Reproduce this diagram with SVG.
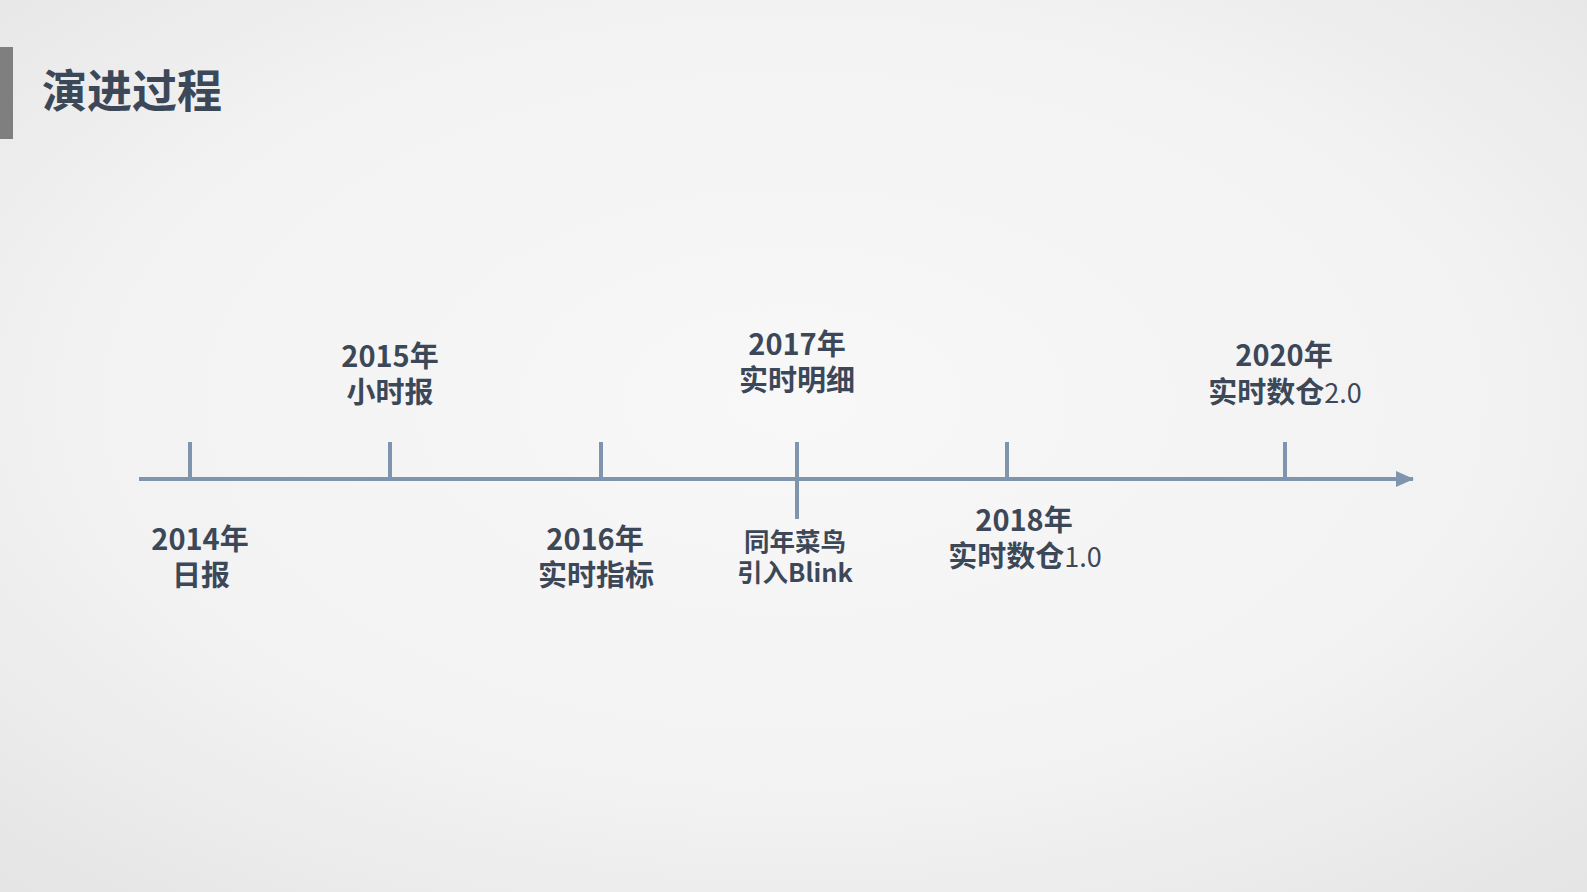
<svg xmlns="http://www.w3.org/2000/svg" width="1587" height="892" viewBox="0 0 1587 892">
<defs>
<radialGradient id="bg" cx="50%" cy="45%" r="75%">
<stop offset="0" stop-color="#f9f8f9"/>
<stop offset="0.6" stop-color="#f3f2f3"/>
<stop offset="1" stop-color="#e4e4e4"/>
</radialGradient>
<marker id="arr" viewBox="0 0 18 16" refX="17" refY="8" markerWidth="18" markerHeight="16" markerUnits="userSpaceOnUse" orient="auto">
<path d="M0,0 L18,8 L0,16 Z" fill="#7f95ae"/>
</marker>
</defs>
<style>
.t{font-family:"Noto Sans CJK SC","Noto Sans",sans-serif;font-weight:700;fill:#3c4858;text-anchor:middle}
.y{font-size:29px}
.s{font-size:25.5px}
.n{font-weight:400}
.ax{stroke:#7f95ae;stroke-width:4;fill:none}
</style>
<rect width="1587" height="892" fill="url(#bg)"/>
<g id="header">
<rect x="0" y="47" width="13" height="92" fill="#7f7f7f"/>
<text x="42" y="108" font-family="Noto Sans CJK SC, sans-serif" font-weight="700" font-size="45" fill="#3c4858">演进过程</text>
</g>
<g id="connectors">
<line class="ax" x1="139" y1="479" x2="1413" y2="479" marker-end="url(#arr)"/>
<line class="ax" x1="190" y1="442" x2="190" y2="479"/>
<line class="ax" x1="390" y1="442" x2="390" y2="479"/>
<line class="ax" x1="601" y1="442" x2="601" y2="479"/>
<line class="ax" x1="797" y1="442" x2="797" y2="519"/>
<line class="ax" x1="1007" y1="442" x2="1007" y2="479"/>
<line class="ax" x1="1285" y1="442" x2="1285" y2="479"/>
</g>
<g id="n2014"><text class="t y" x="200" y="550">2014年</text><text class="t y" x="201" y="586">日报</text></g>
<g id="n2015"><text class="t y" x="390" y="367">2015年</text><text class="t y" x="390" y="403">小时报</text></g>
<g id="n2016"><text class="t y" x="595" y="550">2016年</text><text class="t y" x="596" y="586">实时指标</text></g>
<g id="n2017"><text class="t y" x="797" y="355">2017年</text><text class="t y" x="797" y="391">实时明细</text></g>
<g id="n2017b"><text class="t s" x="795" y="551">同年菜鸟</text><text class="t s" x="795" y="582">引入Blink</text></g>
<g id="n2018"><text class="t y" x="1024" y="531">2018年</text><text class="t y" x="1025" y="567">实时数仓<tspan class="n" font-size="27">1.0</tspan></text></g>
<g id="n2020"><text class="t y" x="1284" y="366">2020年</text><text class="t y" x="1285" y="403">实时数仓<tspan class="n" font-size="27">2.0</tspan></text></g>
</svg>
